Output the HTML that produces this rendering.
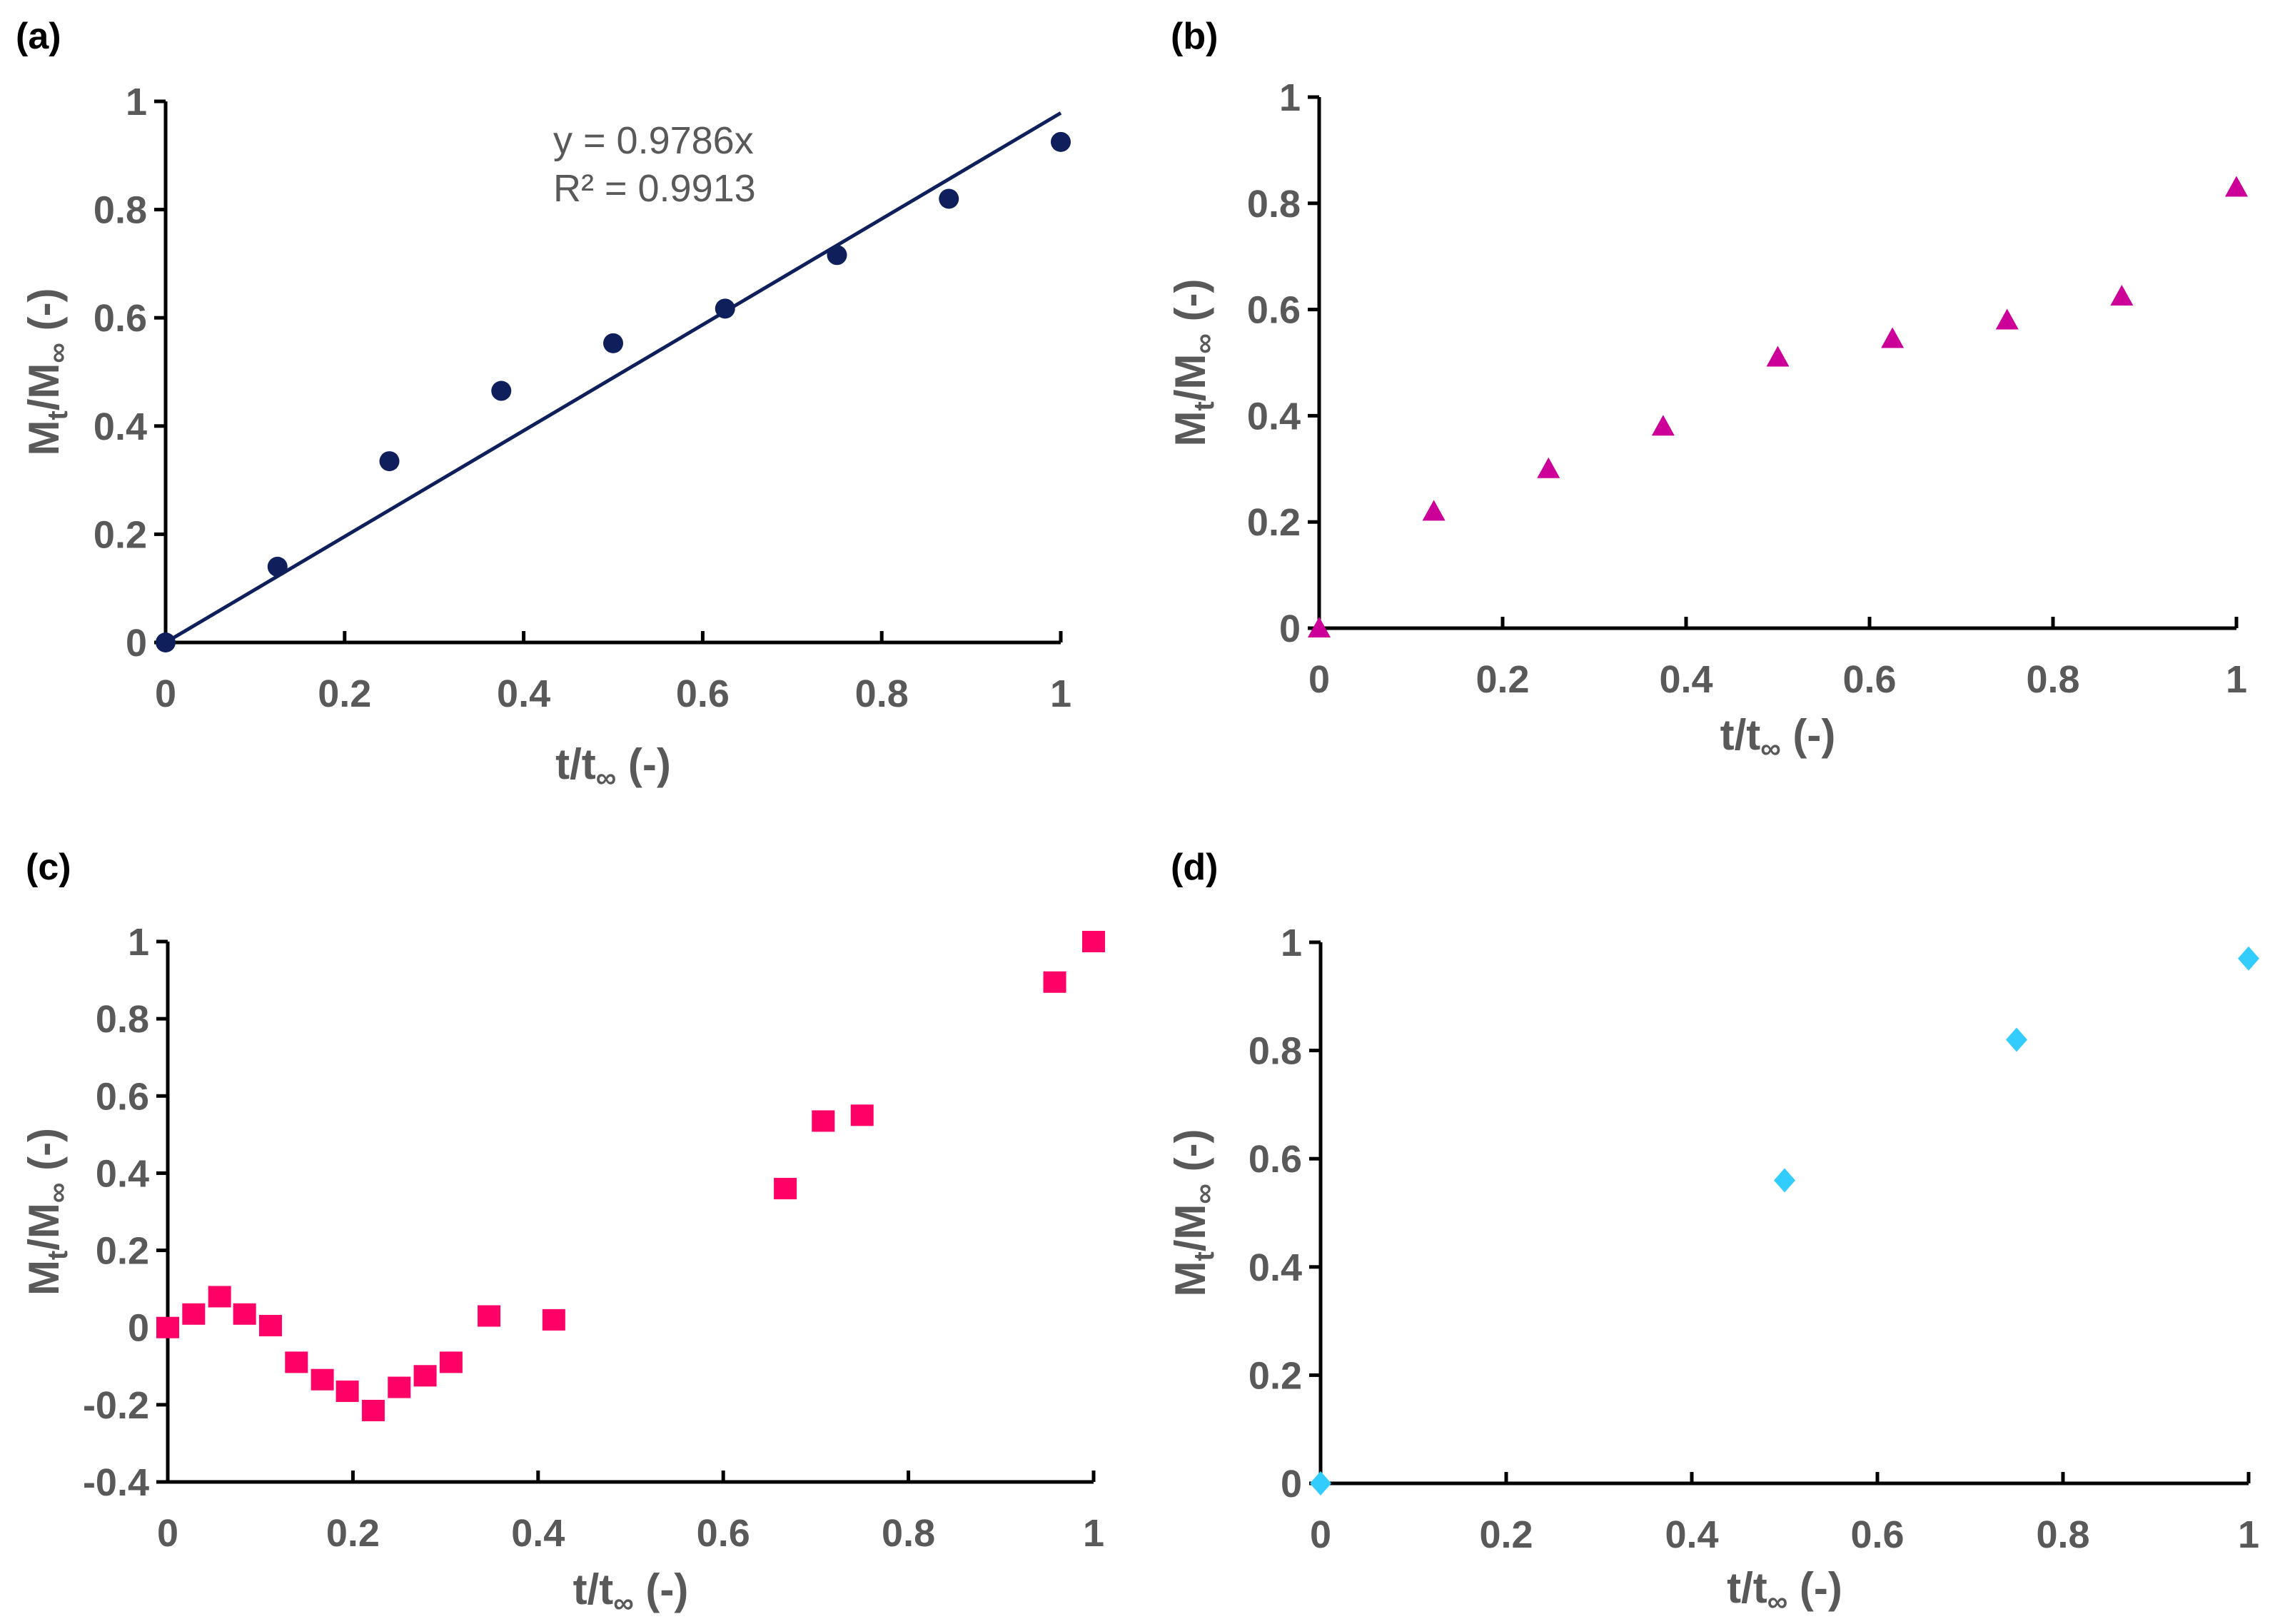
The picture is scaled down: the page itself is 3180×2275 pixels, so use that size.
<!DOCTYPE html>
<html><head><meta charset="utf-8">
<style>
html,body{margin:0;padding:0;background:#fff;}
svg{display:block;font-family:"Liberation Sans",sans-serif;}
.tick{font-weight:bold;fill:#595959;font-size:54px;}
.title{font-weight:bold;fill:#595959;font-size:60px;}
.plabel{font-weight:bold;fill:#000;font-size:52px;}
</style></head>
<body>
<svg id="fig" width="3180" height="2275" viewBox="0 0 3180 2275" xmlns="http://www.w3.org/2000/svg"></svg>
<script>
const aX = [0,0.125,0.25,0.375,0.5,0.625,0.75,0.875,1];
const aY = [0,0.14,0.335,0.465,0.553,0.617,0.716,0.82,0.925];
const aSlope = 0.9786;
const bX = [0,0.125,0.25,0.375,0.5,0.625,0.75,0.875,1];
const bY = [0,0.22,0.30,0.38,0.51,0.545,0.58,0.625,0.83];
const cX = [0,0.028,0.056,0.083,0.111,0.139,0.167,0.194,0.222,0.25,0.278,0.306,0.347,0.417,0.667,0.708,0.75,0.958,1];
const cY = [0,0.035,0.08,0.035,0.005,-0.09,-0.135,-0.165,-0.215,-0.155,-0.125,-0.09,0.03,0.02,0.36,0.535,0.55,0.895,1.0];
const dX = [0,0.5,0.75,1];
const dY = [0,0.56,0.82,0.97];
const xTicks = [0,0.2,0.4,0.6,0.8,1];
const xTickLabels = ["0","0.2","0.4","0.6","0.8","1"];
const yTicksA = [0,0.2,0.4,0.6,0.8,1];
const yTickLabelsA = ["0","0.2","0.4","0.6","0.8","1"];
const yTicksC = [-0.4,-0.2,0,0.2,0.4,0.6,0.8,1];
const yTickLabelsC = ["-0.4","-0.2","0","0.2","0.4","0.6","0.8","1"];

const NS="http://www.w3.org/2000/svg";
const svg=document.getElementById('fig');
function mk(tag,attrs,parent,txt){const e=document.createElementNS(NS,tag);for(const k in attrs)e.setAttribute(k,attrs[k]);if(txt!==undefined)e.textContent=txt;(parent||svg).appendChild(e);return e;}

function panel(id,L,R,B,T,ymin,ymax,yt,ytl,label,lx,ly,xtOff,ytX){
  const g=mk('g',{});
  
  
  const sx=v=>L+v*(R-L);
  const sy=v=>B-(v-ymin)*(B-T)/(ymax-ymin);
  const axisY=sy(ymin);
  const ya=mk('line',{x1:L,y1:sy(ymax),x2:L,y2:axisY,stroke:'#000','stroke-width':5},g);
  
  
  const xa=mk('line',{x1:L-2,y1:axisY,x2:R,y2:axisY,stroke:'#000','stroke-width':5},g);
  
  
  yt.forEach((v,i)=>{
    mk('line',{x1:L-16,y1:sy(v),x2:L,y2:sy(v),stroke:'#000','stroke-width':5},g);
    const t=mk('text',{x:L-26,y:sy(v)+19,'text-anchor':'end',class:'tick'},g,ytl[i]);
    
    
  });
  xTicks.forEach((v,i)=>{
    if(i>0) mk('line',{x1:sx(v),y1:axisY-16,x2:sx(v),y2:axisY,stroke:'#000','stroke-width':5},g);
    const t=mk('text',{x:sx(v),y:axisY+90,'text-anchor':'middle',class:'tick'},g,xTickLabels[i]);
    
    
  });
  const xt=mk('text',{x:(L+R)/2,y:axisY+xtOff,'text-anchor':'middle',class:'title'},g);
  
  
  xt.innerHTML='t/t<tspan dy="12" font-size="40">∞</tspan><tspan dy="-12"> (-)</tspan>';
  const cy=(T+B)/2;
  const ytt=mk('text',{x:0,y:0,'text-anchor':'middle',class:'title',transform:`translate(${ytX},${cy}) rotate(-90)`},g);
  
  
  ytt.innerHTML='M<tspan dy="12" font-size="40">t</tspan><tspan dy="-12">/M</tspan><tspan dy="12" font-size="40">∞</tspan><tspan dy="-12"> (-)</tspan>';
  const pl=mk('text',{x:lx,y:ly,class:'plabel'},g,label);
  
  
  return {g,sx,sy};
}
function markers(p,xs,ys,type,color,id){
  xs.forEach((x,i)=>{
    const cx=p.sx(x),cy=p.sy(ys[i]);let m;
    if(type==='circle') m=mk('circle',{cx,cy,r:14,fill:color},p.g);
    else if(type==='tri') m=mk('polygon',{points:`${cx},${cy-16} ${cx+16},${cy+13} ${cx-16},${cy+13}`,fill:color},p.g);
    else if(type==='sq') m=mk('rect',{x:cx-16,y:cy-15,width:32,height:30,fill:color},p.g);
    else m=mk('polygon',{points:`${cx},${cy-17} ${cx+15},${cy} ${cx},${cy+17} ${cx-15},${cy}`,fill:color},p.g);
    
    
  });
}
const pa=panel('a',232,1486,900,142,0,1,yTicksA,yTickLabelsA,'(a)',22,68,191,82);
const fit=mk('line',{x1:pa.sx(0),y1:pa.sy(0),x2:pa.sx(1),y2:pa.sy(aSlope),stroke:'#0f1f5c','stroke-width':5},pa.g);


markers(pa,aX,aY,'circle','#0f1f5c','a');
const eq1=mk('text',{x:775,y:215,'font-size':54,fill:'#595959'},pa.g,'y = 0.9786x');


const eq2=mk('text',{x:775,y:282,'font-size':54,fill:'#595959'},pa.g,'R² = 0.9913');


const pb=panel('b',1848,3133,880,136,0,1,yTicksA,yTickLabelsA,'(b)',1640,68,170,1688);
markers(pb,bX,bY,'tri','#cc0099','b');
const pc=panel('c',235,1532,2076,1319,-0.4,1,yTicksC,yTickLabelsC,'(c)',36,1232,171,82);
markers(pc,cX,cY,'sq','#ff0066','c');
const pd=panel('d',1850,3150,2078,1320,0,1,yTicksA,yTickLabelsA,'(d)',1640,1232,167,1688);
markers(pd,dX,dY,'dia','#33ccff','d');
</script>
</body></html>
